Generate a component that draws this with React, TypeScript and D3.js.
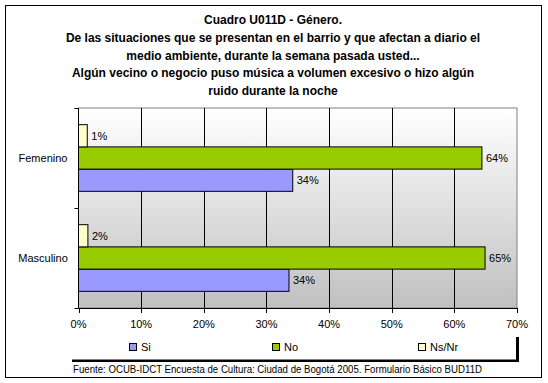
import React from "react";
import * as d3 from "d3";

const titleLines = [
  "Cuadro U011D - Género.",
  "De las situaciones que se presentan en el barrio y que afectan a diario el",
  "medio ambiente, durante la semana pasada usted...",
  "Algún vecino o negocio puso música a volumen excesivo o hizo algún",
  "ruido durante la noche",
];
const categories = ["Femenino", "Masculino"];
const seriesNames = ["Si", "No", "Ns/Nr"];
const siValues = [34.2, 33.6];
const noValues = [64.4, 64.9];
const nsnrValues = [1.4, 1.5];
const xTicks = [0, 10, 20, 30, 40, 50, 60, 70];
const colors = ["#9999ff", "#99cc00", "#ffffcc"];
const footer =
  "Fuente: OCUB-IDCT Encuesta de Cultura: Ciudad de Bogotá 2005. Formulario Básico BUD11D";

const FONT = "Arial, 'Liberation Sans', sans-serif";

export default function App() {
  const W = 548;
  const H = 383;
  const plot = { left: 78.5, right: 517, top: 108, bottom: 308 };
  const x = d3.scaleLinear().domain([0, 70]).range([plot.left, plot.right]);
  const y = d3
    .scaleBand<string>()
    .domain(categories)
    .range([plot.top, plot.bottom])
    .padding(0);
  // within each category: Ns/Nr on top, then No, then Si
  const inner = d3
    .scaleBand<string>()
    .domain(["Ns/Nr", "No", "Si"])
    .range([0, y.bandwidth()])
    .paddingInner(0)
    .paddingOuter(0.75);
  const valuesBySeries: Record<string, number[]> = {
    Si: siValues,
    No: noValues,
    "Ns/Nr": nsnrValues,
  };
  const colorBySeries: Record<string, string> = {
    Si: colors[0],
    No: colors[1],
    "Ns/Nr": colors[2],
  };
  const legendX = [129, 272, 418];

  return (
    <svg
      width={W}
      height={H}
      style={{ position: "absolute", left: 0, top: 0 }}
      fontFamily={FONT}
    >
      <defs>
        <linearGradient id="bg" x1="0" y1="0" x2="0" y2="1">
          <stop offset="0" stopColor="#ffffff" />
          <stop offset="1" stopColor="#c0c0c0" />
        </linearGradient>
      </defs>
      <rect x={0} y={0} width={W} height={H} fill="#ffffff" />
      <rect x={5.5} y={5.5} width={536} height={372} fill="#ffffff" stroke="#000" strokeWidth={1} />
      {titleLines.map((t, i) => (
        <text
          key={i}
          x={273}
          y={24 + i * 17.75}
          textAnchor="middle"
          fontSize={12}
          fontWeight="bold"
          fill="#000"
        >
          {t}
        </text>
      ))}
      {/* plot area */}
      <rect
        x={plot.left}
        y={plot.top}
        width={plot.right - plot.left}
        height={plot.bottom - plot.top}
        fill="url(#bg)"
        stroke="#808080"
        strokeWidth={1}
      />
      {xTicks.slice(1, -1).map((t) => (
        <line
          key={t}
          x1={Math.round(x(t)) + 0.5}
          x2={Math.round(x(t)) + 0.5}
          y1={plot.top}
          y2={plot.bottom}
          stroke="#000"
        />
      ))}
      {/* bars */}
      {categories.map((c, ci) =>
        seriesNames.map((s) => {
          const v = valuesBySeries[s][ci];
          const by = (y(c) as number) + (inner(s) as number);
          const bh = inner.bandwidth();
          return (
            <g key={c + s}>
              <rect
                x={plot.left}
                y={by}
                width={x(v) - plot.left}
                height={bh}
                fill={colorBySeries[s]}
                stroke="#000"
                strokeWidth={1}
              />
              <text x={x(v) + 4} y={by + bh / 2 + 4} fontSize={11} fill="#000">
                {Math.round(v) + "%"}
              </text>
            </g>
          );
        })
      )}
      {/* axes */}
      <line x1={plot.left} x2={plot.left} y1={plot.top} y2={plot.bottom} stroke="#000" />
      <line x1={plot.left} x2={plot.right} y1={plot.bottom + 0.5} y2={plot.bottom + 0.5} stroke="#000" />
      {[plot.top, plot.top + y.bandwidth(), plot.bottom].map((v, i) => (
        <line key={i} x1={plot.left - 4} x2={plot.left} y1={Math.round(v) + 0.5} y2={Math.round(v) + 0.5} stroke="#000" />
      ))}
      {xTicks.map((t) => (
        <g key={t}>
          <line
            x1={Math.round(x(t)) + 0.5}
            x2={Math.round(x(t)) + 0.5}
            y1={plot.bottom}
            y2={plot.bottom + 5}
            stroke="#000"
          />
          <text x={x(t)} y={328} textAnchor="middle" fontSize={11} fill="#000">
            {t + "%"}
          </text>
        </g>
      ))}
      {categories.map((c) => (
        <text
          key={c}
          x={43}
          y={(y(c) as number) + y.bandwidth() / 2 + 4}
          textAnchor="middle"
          fontSize={11}
          fill="#000"
        >
          {c}
        </text>
      ))}
      {/* legend */}
      <rect x={516} y={337} width={3} height={25} fill="#000" />
      <rect x={72} y={359.5} width={447} height={2.5} fill="#000" />
      {seriesNames.map((s, i) => (
        <g key={s}>
          <rect x={legendX[i] + 0.5} y={343.5} width={7} height={7} fill={colors[i]} stroke="#000" />
          <text x={legendX[i] + 12} y={351} fontSize={11} fill="#000">
            {s}
          </text>
        </g>
      ))}
      <text x={73} y={373} fontSize={10} fill="#000" textLength={409} lengthAdjust="spacingAndGlyphs">
        {footer}
      </text>
    </svg>
  );
}
